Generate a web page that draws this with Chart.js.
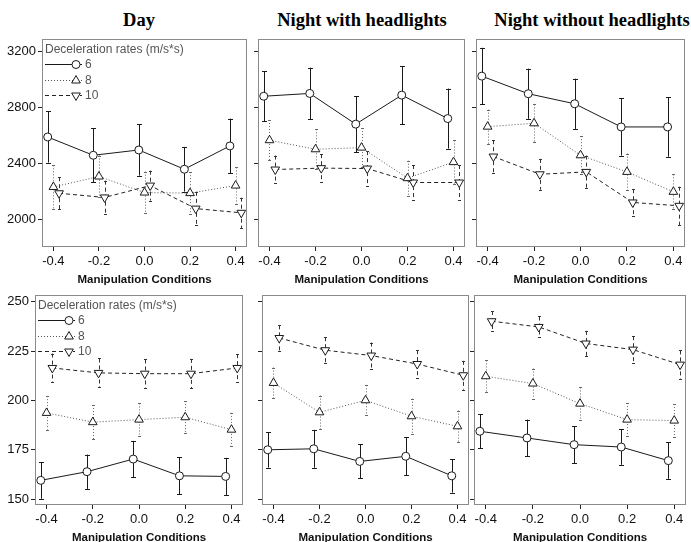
<!DOCTYPE html>
<html>
<head>
<meta charset="utf-8">
<script src="https://cdn.jsdelivr.net/npm/chart.js@4/dist/chart.umd.min.js"></script>
<style>
  html, body { margin: 0; padding: 0; background: #fff; width: 691px; height: 542px; overflow: hidden; }
  #wrap { position: relative; width: 691px; height: 542px; }
  canvas { position: absolute; }
  .ptitle { position: absolute; width: 300px; text-align: center; font-family: 'Liberation Serif', 'Times New Roman', serif;
            font-weight: bold; font-size: 18.5px; line-height: 22px; color: #000; white-space: nowrap; }
</style>
</head>
<body>
<div id="wrap"></div>
<script>
// ---------------- DATA ----------------
const conditions = [-0.4, -0.2, 0.0, 0.2, 0.4];
const xTickLabels = ['-0.4', '-0.2', '0.0', '0.2', '0.4'];
const rateLabels = ['6', '8', '10'];
const legendTitle = 'Deceleration rates (m/s*s)';
const panelTitles = ['Day', 'Night with headlights', 'Night without headlights'];
const xAxisTitle = 'Manipulation Conditions';
const topYTicks = [2000, 2400, 2800, 3200];
const topYTickLabels = ['2000', '2400', '2800', '3200'];
const bottomYTicks = [150, 175, 200, 225, 250];
const bottomYTickLabels = ['150', '175', '200', '225', '250'];

// Top row: Day
const dayTop6 = [2588, 2457, 2495, 2357, 2524];
const dayTop6Err = [183, 192, 184, 160, 196];
const dayTop8 = [2230, 2305, 2190, 2186, 2240];
const dayTop8Err = [155, 150, 150, 150, 130];
const dayTop10 = [2185, 2155, 2240, 2075, 2045];
const dayTop10Err = [115, 120, 107, 120, 108];
// Top row: Night with headlights
const withTop6 = [2880, 2900, 2680, 2888, 2720];
const withTop6Err = [178, 185, 200, 208, 215];
const withTop8 = [2565, 2500, 2512, 2293, 2408];
const withTop8Err = [145, 143, 140, 125, 155];
const withTop10 = [2355, 2365, 2362, 2262, 2262];
const withTop10Err = [100, 100, 125, 125, 125];
// Top row: Night without headlights
const withoutTop6 = [3024, 2898, 2826, 2660, 2660];
const withoutTop6Err = [203, 180, 180, 205, 213];
const withoutTop8 = [2662, 2686, 2457, 2338, 2195];
const withoutTop8Err = [122, 135, 137, 131, 125];
const withoutTop10 = [2448, 2321, 2338, 2119, 2095];
const withoutTop10Err = [117, 110, 117, 95, 137];

// Bottom row: Day
const dayBot6 = [159.5, 163.9, 170.3, 161.8, 161.5];
const dayBot6Err = [9.3, 8.7, 9.2, 9.3, 9.4];
const dayBot8 = [193.7, 189.0, 190.3, 191.5, 185.2];
const dayBot8Err = [8.5, 8.7, 8.2, 8.2, 8.5];
const dayBot10 = [216.5, 214.0, 213.6, 213.6, 216.5];
const dayBot10Err = [7.3, 7.3, 7.2, 7.5, 7.0];
// Bottom row: Night with headlights
const withBot6 = [175.0, 175.5, 169.1, 171.7, 161.8];
const withBot6Err = [9.0, 9.6, 8.6, 9.6, 8.5];
const withBot8 = [208.9, 194.0, 200.1, 192.0, 186.9];
const withBot8Err = [7.8, 8.5, 7.6, 8.9, 8.0];
const withBot10 = [231.7, 225.5, 222.8, 218.5, 212.8];
const withBot10Err = [6.4, 6.6, 6.6, 7.0, 7.3];
// Bottom row: Night without headlights
const withoutBot6 = [184.4, 181.0, 177.6, 176.4, 169.5];
const withoutBot6Err = [8.7, 9.3, 9.4, 9.0, 9.2];
const withoutBot8 = [212.3, 208.6, 198.4, 190.3, 189.8];
const withoutBot8Err = [8.0, 7.6, 8.2, 8.4, 8.4];
const withoutBot10 = [240.2, 237.3, 228.9, 225.8, 218.2];
const withoutBot10Err = [5.2, 5.3, 6.4, 6.8, 7.2];

// ---------------- STYLE / LAYOUT ----------------
const dodge = [-0.025, 0, 0.025];
const seriesStyle = [
  { pointStyle: 'circle',   radius: 4,   rotation: 0,   line: '#1a1a1a', err: '#1a1a1a', dash: [],     cap: 2.5 },
  { pointStyle: 'triangle', radius: 5,   rotation: 0,   line: '#555555', err: '#666666', dash: [1, 2], cap: 1.5 },
  { pointStyle: 'triangle', radius: 5,   rotation: 180, line: '#222222', err: '#333333', dash: [4, 3], cap: 1.5 }
];
const FONT = "'Liberation Sans', Arial, sans-serif";
Chart.defaults.font.family = FONT;

const PAD_TOP = 10, PAD_R = 4, X_H = 42;

const panels = [
  { box: [42, 39, 249, 247],  yW: 42, labels: true,  legend: true,  ticks: topYTicks, tickLabels: topYTickLabels, min: 1800, max: 3290,
    series: [[dayTop6, dayTop6Err], [dayTop8, dayTop8Err], [dayTop10, dayTop10Err]] },
  { box: [258, 39, 467, 247], yW: 8,  labels: false, legend: false, ticks: topYTicks, tickLabels: topYTickLabels, min: 1800, max: 3290,
    series: [[withTop6, withTop6Err], [withTop8, withTop8Err], [withTop10, withTop10Err]] },
  { box: [476, 39, 687, 247], yW: 8,  labels: false, legend: false, ticks: topYTicks, tickLabels: topYTickLabels, min: 1800, max: 3290,
    series: [[withoutTop6, withoutTop6Err], [withoutTop8, withoutTop8Err], [withoutTop10, withoutTop10Err]] },
  { box: [35, 295, 245, 505],  yW: 35, labels: true,  legend: true,  ticks: bottomYTicks, tickLabels: bottomYTickLabels, min: 147, max: 253.5,
    series: [[dayBot6, dayBot6Err], [dayBot8, dayBot8Err], [dayBot10, dayBot10Err]] },
  { box: [262, 295, 471, 505], yW: 8,  labels: false, legend: false, ticks: bottomYTicks, tickLabels: bottomYTickLabels, min: 147, max: 253.5,
    series: [[withBot6, withBot6Err], [withBot8, withBot8Err], [withBot10, withBot10Err]] },
  { box: [474, 295, 688, 505], yW: 8,  labels: false, legend: false, ticks: bottomYTicks, tickLabels: bottomYTickLabels, min: 147, max: 253.5,
    series: [[withoutBot6, withoutBot6Err], [withoutBot8, withoutBot8Err], [withoutBot10, withoutBot10Err]] }
];
const titleCenters = [139, 362, 592];

// ---------------- PLUGINS ----------------
const errorBarPlugin = {
  id: 'errorBars',
  beforeDatasetsDraw(chart) {
    const { ctx, scales: { x, y } } = chart;
    chart.data.datasets.forEach((ds) => {
      ds.data.forEach((pt, j) => {
        const e = ds.errors[j];
        const px = Math.round(x.getPixelForValue(pt.x)) + 0.5;
        const y1 = y.getPixelForValue(pt.y + e);
        const y2 = y.getPixelForValue(pt.y - e);
        ctx.save();
        ctx.strokeStyle = ds.errColor;
        ctx.lineWidth = 1;
        ctx.setLineDash(ds.borderDash || []);
        ctx.beginPath();
        ctx.moveTo(px, y1); ctx.lineTo(px, y2);
        ctx.stroke();
        ctx.setLineDash([]);
        ctx.beginPath();
        ctx.moveTo(px - ds.capW, Math.round(y1) + 0.5); ctx.lineTo(px + ds.capW, Math.round(y1) + 0.5);
        ctx.moveTo(px - ds.capW, Math.round(y2) + 0.5); ctx.lineTo(px + ds.capW, Math.round(y2) + 0.5);
        ctx.stroke();
        ctx.restore();
      });
    });
  }
};

const framePlugin = {
  id: 'frame',
  afterDraw(chart) {
    const { ctx, chartArea: a } = chart;
    ctx.save();
    ctx.strokeStyle = '#8a8a8a';
    ctx.lineWidth = 1;
    ctx.strokeRect(Math.round(a.left) + 0.5, Math.round(a.top) + 0.5,
                   Math.round(a.right - a.left) - 1, Math.round(a.bottom - a.top) - 1);
    ctx.restore();
  }
};

function drawMarker(ctx, style, cx, cy) {
  ctx.save();
  ctx.fillStyle = '#fff';
  ctx.strokeStyle = '#1a1a1a';
  ctx.lineWidth = 1;
  ctx.setLineDash([]);
  ctx.beginPath();
  if (style.pointStyle === 'circle') {
    ctx.arc(cx, cy, style.radius, 0, Math.PI * 2);
  } else {
    let rad = style.rotation * Math.PI / 180;
    for (let k = 0; k < 3; k++) {
      const vx = cx + Math.sin(rad) * style.radius, vy = cy - Math.cos(rad) * style.radius;
      if (k === 0) ctx.moveTo(vx, vy); else ctx.lineTo(vx, vy);
      rad += 2 * Math.PI / 3;
    }
    ctx.closePath();
  }
  ctx.fill();
  ctx.stroke();
  ctx.restore();
}

const insideLegendPlugin = {
  id: 'insideLegend',
  afterDraw(chart, args, opts) {
    if (!opts.show) return;
    const { ctx, chartArea: a } = chart;
    const x0 = a.left + 3, y0 = a.top + 11;
    ctx.save();
    ctx.font = '12px ' + FONT;
    ctx.fillStyle = '#555';
    ctx.textBaseline = 'middle';
    ctx.textAlign = 'left';
    ctx.fillText(legendTitle, x0, y0);
    chart.data.datasets.forEach((ds, i) => {
      const st = seriesStyle[i];
      const yy = Math.round(y0 + 14 + 15.5 * i) + 0.5;
      ctx.save();
      ctx.strokeStyle = st.line;
      ctx.lineWidth = 1;
      ctx.setLineDash(st.dash);
      ctx.beginPath();
      ctx.moveTo(x0, yy); ctx.lineTo(x0 + 37, yy);
      ctx.stroke();
      ctx.restore();
      drawMarker(ctx, st, x0 + 31, yy);
      ctx.fillStyle = '#555';
      ctx.fillText(ds.label, x0 + 40, yy);
    });
    ctx.restore();
  }
};

// ---------------- BUILD ----------------
const wrap = document.getElementById('wrap');

panelTitles.forEach((t, i) => {
  const d = document.createElement('div');
  d.className = 'ptitle';
  d.textContent = t;
  d.style.left = (titleCenters[i] - 150) + 'px';
  d.style.top = '9px';
  wrap.appendChild(d);
});

panels.forEach((p) => {
  const [bl, bt, br, bb] = p.box;
  const cw = p.yW + (br - bl) + PAD_R;
  const ch = PAD_TOP + (bb - bt) + X_H;
  const cv = document.createElement('canvas');
  cv.width = cw; cv.height = ch;
  cv.style.width = cw + 'px'; cv.style.height = ch + 'px';
  cv.style.left = (bl - p.yW) + 'px';
  cv.style.top = (bt - PAD_TOP) + 'px';
  wrap.appendChild(cv);

  const datasets = p.series.map(([means, errs], si) => {
    const st = seriesStyle[si];
    return {
      label: rateLabels[si],
      data: conditions.map((c, j) => ({ x: c + dodge[si], y: means[j] })),
      errors: errs,
      errColor: st.err,
      capW: st.cap,
      borderColor: st.line,
      borderWidth: 1,
      borderDash: st.dash,
      tension: 0,
      fill: false,
      showLine: true,
      pointStyle: st.pointStyle,
      pointRadius: st.radius,
      pointRotation: st.rotation,
      pointBackgroundColor: '#fff',
      pointBorderColor: '#1a1a1a',
      pointBorderWidth: 1,
      clip: false
    };
  });

  new Chart(cv, {
    type: 'scatter',
    data: { datasets },
    plugins: [errorBarPlugin, framePlugin, insideLegendPlugin],
    options: {
      responsive: false,
      animation: false,
      devicePixelRatio: 1,
      layout: { padding: { top: PAD_TOP, right: PAD_R, left: 0, bottom: 0 } },
      plugins: {
        legend: { display: false },
        tooltip: { enabled: false },
        insideLegend: { show: p.legend }
      },
      scales: {
        x: {
          type: 'linear',
          min: -0.45, max: 0.45,
          afterBuildTicks: (s) => { s.ticks = conditions.map(v => ({ value: v })); },
          afterFit: (s) => { s.height = X_H; s.paddingLeft = 0; s.paddingRight = 0; },
          ticks: { padding: 3, font: { size: 13 }, color: '#111', maxRotation: 0,
                   callback: (v, i) => xTickLabels[i] },
          grid: { display: true, drawOnChartArea: false, drawTicks: true, tickLength: 4, color: '#222' },
          border: { display: false },
          title: { display: true, text: xAxisTitle, color: '#111',
                   font: { size: 11.5, weight: 'bold' }, padding: { top: 0, bottom: 2.5 } }
        },
        y: {
          type: 'linear',
          min: p.min, max: p.max,
          afterBuildTicks: (s) => { s.ticks = p.ticks.map(v => ({ value: v })); },
          afterFit: (s) => { s.width = p.yW; s.paddingTop = 0; s.paddingBottom = 0; },
          ticks: { display: p.labels, padding: 2, font: { size: 13 }, color: '#111',
                   callback: (v, i) => p.tickLabels[i] },
          grid: { display: true, drawOnChartArea: false, drawTicks: true, tickLength: 4, color: '#222' },
          border: { display: false }
        }
      }
    }
  });
});
</script>
</body>
</html>
